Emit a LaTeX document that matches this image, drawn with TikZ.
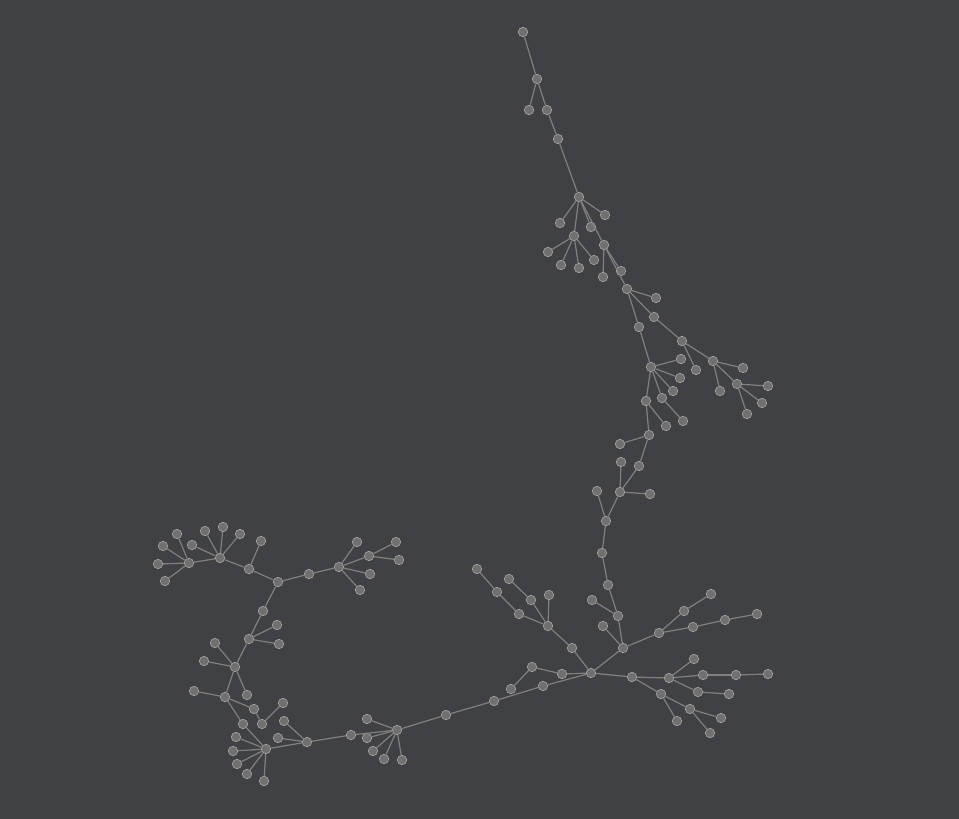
\documentclass[tikz,border=0pt]{standalone}
\definecolor{bg}{RGB}{64,65,69}
\definecolor{vfill}{RGB}{112,112,112}
\definecolor{vline}{RGB}{160,160,160}
\definecolor{ecol}{RGB}{128,128,128}
\tikzset{
  vert/.style={circle,fill=vfill,draw=vline,line width=0.7pt,minimum size=9.4pt,inner sep=0pt},
  edge/.style={draw=ecol,line width=1.2pt}
}
\begin{document}
\begin{tikzpicture}
\fill[bg] (0,0) rectangle (959pt,-819pt);
\useasboundingbox (0,0) rectangle (959pt,-819pt);
\foreach \n/\x/\y in {
a1/523/32, a2/537/79, a3/529/110, a4/547/110, a5/558/139, a6/579/197,
b1/560/223, b2/605/215, b3/591/227, b4/574/236, b5/548/252, b6/561/265, b7/579/268, b8/594/260,
b9/604/245, b10/603/277, b11/621/271, b12/627/289, b13/656/298, b14/654/317, b15/639/327,
c1/682/341, c2/651/367, c3/681/359, c4/696/370, c5/713/361, c6/743/368, c7/737/384, c8/768/386,
c9/720/391, c10/762/403, c11/747/414, c12/680/378, c13/673/391, c14/662/398, c15/646/401,
c16/683/421, c17/666/426, c18/649/435,
d2/620/444, d3/621/462, d4/639/466, d5/620/492, d6/597/491, d7/650/494, d8/606/521, d9/602/553,
e1/608/585, e2/592/600, e3/618/616, e4/603/626, e5/623/648, e6/591/673, e7/572/648, e8/548/626,
e9/519/614, e10/497/592, e11/477/569, e12/531/600, e13/509/579, e14/549/595, e15/562/674,
e16/532/667, e17/511/689, e18/543/686, e19/494/701, e20/632/677,
f2/659/633, f3/684/611, f4/711/594, f5/693/627, f6/725/620, f7/757/614,
f9/669/678, f10/694/659, f11/703/675, f12/736/675, f13/768/674, f14/698/692, f15/729/694,
f16/661/694, f17/690/709, f18/721/718, f19/677/721, f20/710/733,
g1/163/546, g2/177/534, g3/158/564, g4/165/581, g5/189/563, g6/192/545, g7/205/531, g8/223/527,
g9/240/534, g10/220/558, g11/261/541, g12/249/569, g13/278/582, g14/309/574, g15/339/567,
g16/357/542, g17/369/556, g18/396/542, g19/399/560, g20/370/574, g21/360/590, g22/263/611, g23/277/625,
h2/279/644, h3/249/639, h4/215/643, h5/204/661, h6/235/667, h7/194/691, h8/225/697, h9/247/695,
h10/254/709, h11/262/724, h12/283/703, h13/243/724, h14/284/721, h15/236/737, h16/278/738,
h17/307/742, h18/266/749, h19/233/751, h20/237/764, h21/247/774, h22/264/781,
i5/351/735, i6/367/719, i7/397/730, i8/367/738, i9/373/751, i10/384/759, i11/402/760, i12/446/715}
  \node[vert] (\n) at (\x pt,-\y pt) {};
\foreach \u/\v in {
a1/a2, a2/a3, a2/a4, a4/a5, a5/a6,
a6/b1, a6/b2, a6/b3, a6/b4, a6/b9,
b4/b5, b4/b6, b4/b7, b4/b8,
b9/b10, b9/b11, b9/b12,
b12/b13, b12/b14, b12/b15,
b14/c1, c1/c4, c1/c5, c5/c6, c5/c7, c5/c9, c7/c8, c7/c10, c7/c11,
b15/c2, c2/c3, c2/c12, c2/c13, c2/c14, c2/c15, c14/c16, c15/c17, c15/c18,
c18/d2, c18/d4, d4/d5, d5/d3, d5/d7, d5/d8, d8/d6, d8/d9, d9/e1,
e1/e3, e3/e2, e3/e5, e5/e4, e5/e6, e5/f2,
f2/f3, f3/f4, f2/f5, f5/f6, f6/f7,
e6/e7, e7/e8, e8/e9, e9/e10, e10/e11, e8/e12, e12/e13, e8/e14,
e6/e15, e15/e16, e16/e17, e6/e18, e18/e19, e6/e20,
e20/f9, f9/f10, f9/f11, f11/f12, f12/f13, f9/f14, f14/f15, e20/f16, f16/f17, f17/f18, f17/f20, f16/f19,
e19/i12, i12/i7, i7/i6, i7/i8, i7/i9, i7/i10, i7/i11, i7/i5, i5/h17,
h17/h18, h17/h14, h17/h16,
h18/h13, h18/h15, h18/h19, h18/h20, h18/h21, h18/h22,
h13/h8, h8/h7, h8/h10, h10/h11, h11/h12, h8/h6,
h6/h4, h6/h5, h6/h9, h6/h3, h3/h2, h3/g23, h3/g22, g22/g13,
g13/g12, g13/g14, g14/g15, g15/g16, g15/g17, g15/g20, g15/g21, g17/g18, g17/g19,
g12/g11, g12/g10, g10/g5, g10/g6, g10/g7, g10/g8, g10/g9, g5/g1, g5/g2, g5/g3, g5/g4}
  \draw[edge] (\u) -- (\v);
\end{tikzpicture}
\end{document}
